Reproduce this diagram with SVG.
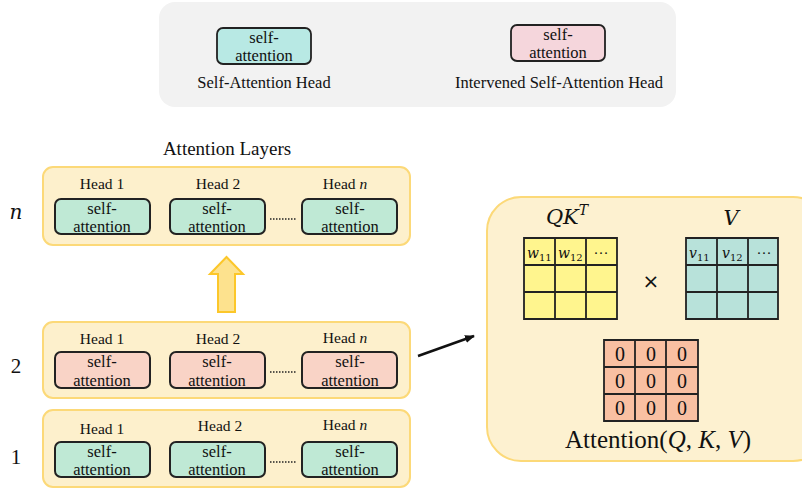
<svg xmlns="http://www.w3.org/2000/svg" width="802" height="489" viewBox="0 0 802 489">
<defs>
<style>
.t{font-family:"Liberation Serif",serif;fill:#111;}
.m{font-family:"DejaVu Serif","Liberation Serif",serif;font-style:italic;fill:#111;}
.layer{fill:#fdf0cc;stroke:#fcd978;stroke-width:2;}
.green{fill:#bfe9d5;stroke:#222;stroke-width:2;}
.pink{fill:#f9d3c6;stroke:#222;stroke-width:2;}
.sa{font-family:"Liberation Serif",serif;font-size:16.5px;fill:#111;text-anchor:middle;}
.hd{font-family:"Liberation Serif",serif;font-size:15.5px;fill:#111;text-anchor:middle;}
.dots{stroke:#222;stroke-width:1.5;stroke-dasharray:1.5 1.5;}
.grid{fill:none;stroke:#222;stroke-width:1.8;}
</style>
<marker id="ah" markerWidth="10" markerHeight="8" refX="9" refY="4" orient="auto" markerUnits="userSpaceOnUse">
<path d="M0,0 L10,4 L0,8 Z" fill="#111"/>
</marker>
</defs>
<rect width="802" height="489" fill="#fff"/>

<g id="legend">
<rect x="159" y="2" width="517" height="105" rx="16" fill="#f2f2f2"/>
<rect x="217" y="28" width="94" height="36" rx="6" fill="#b8e9e4" stroke="#222" stroke-width="1.8"/>
<text class="sa" x="264" y="43">self-</text>
<text class="sa" x="264" y="61">attention</text>
<text class="t" x="264" y="88" font-size="16.5" text-anchor="middle">Self-Attention Head</text>
<rect x="511" y="25" width="94" height="36" rx="6" fill="#f5d6dc" stroke="#222" stroke-width="1.8"/>
<text class="sa" x="558" y="40">self-</text>
<text class="sa" x="558" y="58">attention</text>
<text class="t" x="559" y="88" font-size="16.5" text-anchor="middle">Intervened Self-Attention Head</text>
</g>

<text class="t" x="227" y="155" font-size="19" text-anchor="middle">Attention Layers</text>

<g id="layer-n">
<text class="m" x="16" y="219" font-size="20" text-anchor="middle">n</text>
<rect class="layer" x="43" y="167" width="367" height="78" rx="10"/>
<text class="hd" x="102" y="189">Head 1</text>
<text class="hd" x="218" y="189">Head 2</text>
<text class="hd" x="345" y="189">Head <tspan font-style="italic">n</tspan></text>
<rect class="green" x="55" y="199" width="95" height="35" rx="6"/>
<text class="sa" x="102" y="214">self-</text><text class="sa" x="102" y="232">attention</text>
<rect class="green" x="170" y="199" width="95" height="35" rx="6"/>
<text class="sa" x="217" y="214">self-</text><text class="sa" x="217" y="232">attention</text>
<line class="dots" x1="270" y1="219" x2="297" y2="219"/>
<rect class="green" x="302" y="199" width="95" height="35" rx="6"/>
<text class="sa" x="350" y="214">self-</text><text class="sa" x="350" y="232">attention</text>
</g>

<g id="up-arrow">
<path d="M218,312 L218,274 L210,274 L226.5,257 L243,274 L235,274 L235,312 Z" fill="#fde28e" stroke="#fcc72a" stroke-width="2"/>
</g>

<g id="layer-2">
<text class="t" x="16" y="373" font-size="21" text-anchor="middle">2</text>
<rect class="layer" x="43" y="322" width="367" height="76" rx="10"/>
<text class="hd" x="102" y="344">Head 1</text>
<text class="hd" x="218" y="344">Head 2</text>
<text class="hd" x="345" y="343">Head <tspan font-style="italic">n</tspan></text>
<rect class="pink" x="55" y="352" width="95" height="36" rx="6"/>
<text class="sa" x="102" y="367">self-</text><text class="sa" x="102" y="386">attention</text>
<rect class="pink" x="170" y="352" width="95" height="36" rx="6"/>
<text class="sa" x="217" y="367">self-</text><text class="sa" x="217" y="386">attention</text>
<line class="dots" x1="270" y1="372" x2="297" y2="372"/>
<rect class="pink" x="302" y="352" width="95" height="36" rx="6"/>
<text class="sa" x="350" y="367">self-</text><text class="sa" x="350" y="386">attention</text>
</g>

<g id="layer-1">
<text class="t" x="16" y="464" font-size="21" text-anchor="middle">1</text>
<rect class="layer" x="43" y="410" width="367" height="77" rx="10"/>
<text class="hd" x="102" y="434">Head 1</text>
<text class="hd" x="220" y="431">Head 2</text>
<text class="hd" x="345" y="430">Head <tspan font-style="italic">n</tspan></text>
<rect class="green" x="55" y="442" width="95" height="35" rx="6"/>
<text class="sa" x="102" y="457">self-</text><text class="sa" x="102" y="475">attention</text>
<rect class="green" x="170" y="442" width="95" height="35" rx="6"/>
<text class="sa" x="217" y="457">self-</text><text class="sa" x="217" y="475">attention</text>
<line class="dots" x1="270" y1="462" x2="297" y2="462"/>
<rect class="green" x="302" y="442" width="95" height="35" rx="6"/>
<text class="sa" x="350" y="457">self-</text><text class="sa" x="350" y="475">attention</text>
</g>

<g id="connectors">
<line x1="418" y1="356" x2="474" y2="336" stroke="#111" stroke-width="2.5" marker-end="url(#ah)"/>
</g>

<g id="attention-panel">
<rect x="487" y="197" width="340" height="264" rx="34" fill="#fdf1d0" stroke="#fcd978" stroke-width="2"/>
<text class="m" x="567" y="224" font-size="21" text-anchor="middle">QK<tspan font-size="14" dy="-9">T</tspan></text>
<text class="m" x="731" y="225" font-size="21" text-anchor="middle">V</text>
<rect x="524" y="238" width="93" height="81" fill="#fff58e"/>
<path class="grid" d="M524,238 H617 V319 H524 Z M555,238 V319 M586,238 V319 M524,265 H617 M524,292 H617"/>
<text class="m" x="527" y="258" font-size="14">w<tspan font-style="normal" font-size="10" dy="3">11</tspan></text>
<text class="m" x="558" y="258" font-size="14">w<tspan font-style="normal" font-size="10" dy="3">12</tspan></text>
<text class="t" x="601" y="258" font-size="15" text-anchor="middle">···</text>
<text font-family="DejaVu Sans,sans-serif" x="651" y="288" font-size="20" text-anchor="middle" fill="#111">×</text>
<rect x="686" y="238" width="92" height="81" fill="#b8e2da"/>
<path class="grid" d="M686,238 H778 V319 H686 Z M717,238 V319 M748,238 V319 M686,265 H778 M686,292 H778"/>
<text class="m" x="689" y="258" font-size="14">v<tspan font-style="normal" font-size="10" dy="3">11</tspan></text>
<text class="m" x="722" y="258" font-size="14">v<tspan font-style="normal" font-size="10" dy="3">12</tspan></text>
<text class="t" x="764" y="258" font-size="15" text-anchor="middle">···</text>
<rect x="604" y="340" width="94" height="81" fill="#f9c0a2"/>
<path class="grid" d="M604,340 H698 V421 H604 Z M635,340 V421 M666,340 V421 M604,367 H698 M604,394 H698"/>
<g font-family="Liberation Serif,serif" font-size="20" fill="#111" text-anchor="middle">
<text x="620" y="361">0</text><text x="651" y="361">0</text><text x="682" y="361">0</text>
<text x="620" y="388">0</text><text x="651" y="388">0</text><text x="682" y="388">0</text>
<text x="620" y="415">0</text><text x="651" y="415">0</text><text x="682" y="415">0</text>
</g>
<text class="t" x="658" y="448" font-size="25" text-anchor="middle">Attention(<tspan font-style="italic">Q</tspan>, <tspan font-style="italic">K</tspan>, <tspan font-style="italic">V</tspan>)</text>
</g>
</svg>
